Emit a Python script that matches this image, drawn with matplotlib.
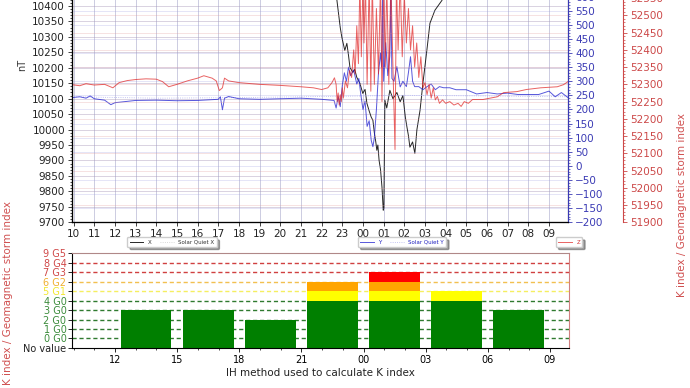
import numpy as np
import matplotlib
matplotlib.use('Agg')
import matplotlib.pyplot as plt
from matplotlib.ticker import MultipleLocator, FixedLocator

# hours since 00:00 of day 1 (24 = 00 next day)
x_hours = [9.92, 11, 12, 13, 14, 15, 16, 17, 18, 19, 20, 21, 22, 22.5, 22.74, 22.9, 22.98, 23.12,
           23.22, 23.3, 23.37, 23.51, 23.6, 23.7, 23.85, 23.99, 24.1, 24.19, 24.3, 24.4, 24.48, 24.55,
           24.62, 24.67, 24.72, 24.78, 24.85, 24.92, 24.98, 25.01, 25.06, 25.15, 25.3, 25.45, 25.64,
           25.8, 25.93, 26.05, 26.13, 26.2, 26.27, 26.4, 26.51, 26.61, 26.76, 26.9, 27.09, 27.24, 27.48,
           27.82, 28.2, 29, 30, 31, 32, 33, 33.92]
x_nT = [10560, 10565, 10560, 10570, 10575, 10570, 10575, 10580, 10585, 10590, 10590, 10585, 10580,
        10540, 10418, 10330, 10298, 10256, 10279, 10240, 10201, 10185, 10195, 10169, 10150, 10117,
        10130, 10085, 10060, 10040, 10030, 9990, 9960, 9933, 9950, 9900, 9870, 9813, 9739, 9745,
        10095, 10070, 10127, 10100, 10120, 10090, 10110, 10040, 10007, 9980, 9943, 9960, 9923, 10000,
        10062, 10150, 10256, 10344, 10386, 10418, 10480, 10520, 10540, 10550, 10555, 10560, 10560]

y_hours = [9.92, 10.3, 10.6, 10.8, 11.0, 11.5, 11.8, 12.0, 12.5, 13.0, 14, 15, 16, 17.0, 17.1, 17.2,
           17.3, 17.5, 18, 19, 20, 21, 22, 22.6, 22.7, 22.8, 22.9, 23.0, 23.1, 23.2, 23.3, 23.4, 23.55,
           23.7, 23.8, 23.9, 24.0, 24.1, 24.2, 24.3, 24.4, 24.48, 24.55, 24.65, 24.75, 24.85, 24.9,
           24.95, 25.0, 25.1, 25.2, 25.3, 25.35, 25.4, 25.5, 25.64, 25.8, 25.93, 26.1, 26.2, 26.3, 26.4,
           26.5, 26.7, 26.9, 27.1, 27.3, 27.5, 27.7, 27.9, 28.2, 28.5, 29, 29.5, 30, 30.5, 31, 31.5,
           32, 32.5, 33.0, 33.3, 33.6, 33.92]
y_vals = [242, 245, 240, 248, 238, 233, 217, 224, 228, 232, 233, 231, 232, 236, 245, 199,
          240, 246, 238, 236, 238, 240, 236, 232, 205, 245, 210, 285, 330, 300, 350, 320, 340,
          290, 310, 250, 200, 230, 140, 160, 90, 68, 100, 200, 330, 400, 350,
          620, 300, 437, 320, 390, 620, 310, 300, 352, 280, 300, 281, 331, 387, 300,
          281, 281, 270, 281, 290, 270, 281, 277, 277, 270, 270, 255, 260, 255, 258, 253,
          253, 253, 265, 245, 260, 242]

z_hours = [9.92, 10.3, 10.6, 11, 11.5, 11.9, 12.2, 12.6, 13, 13.5, 14, 14.3, 14.6, 15, 15.5, 16,
           16.3, 16.7, 16.9, 17.05, 17.2, 17.3, 17.5, 18, 19, 20, 21, 21.6, 22.0, 22.3, 22.5, 22.62,
           22.7, 22.75, 22.8, 22.85, 22.9, 22.95, 23.0, 23.05, 23.15, 23.25, 23.35, 23.45, 23.55,
           23.62, 23.7, 23.78, 23.85, 23.92, 24.0, 24.05, 24.12, 24.2, 24.3, 24.38, 24.45, 24.55,
           24.65, 24.75, 24.85, 24.92, 25.0, 25.08, 25.15, 25.25, 25.35, 25.45, 25.55, 25.62, 25.7,
           25.8, 25.9, 26.0, 26.1, 26.2, 26.3, 26.4, 26.5, 26.6, 26.7, 26.8, 26.9, 27.0, 27.1, 27.2,
           27.3, 27.4, 27.5, 27.6, 27.7, 27.85, 28.0, 28.2, 28.4, 28.6, 28.75, 28.9, 29.1, 29.3,
           29.8, 30.5, 30.8, 31.45, 31.9, 32.6, 33.4, 33.7, 33.92]
z_vals = [52299, 52296, 52302, 52298, 52300, 52290, 52305, 52311, 52314, 52316, 52315, 52308, 52293,
          52300, 52310, 52318, 52325, 52318, 52310, 52282, 52290, 52318, 52310, 52305, 52300, 52297,
          52293, 52290, 52285, 52290, 52305, 52319, 52300, 52250, 52275, 52240, 52270, 52250, 52290,
          52260, 52310, 52290, 52340, 52320, 52400, 52330, 52470, 52360, 52600, 52380, 52600, 52420,
          52600, 52300, 52600, 52280, 52600, 52300, 52520, 52330, 52600, 52250, 52600, 52350, 52600,
          52300, 52600, 52350, 52111, 52600, 52400, 52600, 52380, 52560, 52420, 52520, 52400, 52470,
          52350, 52420, 52320, 52380, 52290, 52305, 52270, 52300, 52260, 52290, 52255, 52265, 52245,
          52255, 52245, 52250, 52240, 52245, 52236, 52250, 52245, 52256, 52256, 52264, 52276, 52279,
          52285, 52290, 52293, 52299, 52308]

# solar quiet curves (X lies above the visible range)
sq_hours = [9.92, 14, 18, 22, 26, 30, 33.92]
sq_x = [10575, 10570, 10580, 10585, 10580, 10575, 10575]
sq_y = [245, 240, 242, 246, 250, 248, 245]

# K index per 3 hour period (start hour), first period has no value
k_start = [12, 15, 18, 21, 24, 27, 30]
k_index = [3, 3, 2, 6, 7, 5, 3]
k_labels = ['No value', '0 G0', '1 G0', '2 G0', '3 G0', '4 G0', '5 G1', '6 G2', '7 G3', '8 G4', '9 G5']
k_label_colors = ['#222222'] + ['#3c8c3c'] * 5 + ['#f2e830', '#f0b030'] + ['#d04848'] * 3

hour_ticks = list(range(10, 34))

fig = plt.figure(figsize=(6.9, 3.88), dpi=100)

# ---- top panel
ax = fig.add_axes([0.1043, 0.4271, 0.7189, 0.599])
ax_y = ax.twinx()
ax_z = ax.twinx()
ax_z.spines['right'].set_position(('axes', 1.111))

ax.plot(sq_hours, sq_x, color='#cccccc', lw=0.6, ls=':', label='Solar Quiet X')
ax.plot(x_hours, x_nT, color='k', lw=0.7, alpha=0.85, label='X')
ax_y.plot(sq_hours, sq_y, color='#b0b0ee', lw=0.6, ls=':', label='Solar Quiet Y')
ax_y.plot(y_hours, y_vals, color='#2020d0', lw=0.7, alpha=0.75, label='Y')
ax_z.plot(z_hours, z_vals, color='#e02020', lw=0.7, alpha=0.7, label='Z')

ax.set_xlim(9.92, 33.92)
ax.set_ylim(9700, 10452)
ax_y.set_ylim(-200, 624)
ax_z.set_ylim(51900, 52574)

ax.set_xticks(hour_ticks)
ax.set_xticklabels(['%02d' % (h % 24) for h in hour_ticks])
ax.yaxis.set_major_locator(MultipleLocator(50))
ax.yaxis.set_minor_locator(MultipleLocator(10))
ax_y.yaxis.set_major_locator(MultipleLocator(50))
ax_y.yaxis.set_minor_locator(MultipleLocator(10))
ax_z.yaxis.set_major_locator(MultipleLocator(50))
ax_z.yaxis.set_minor_locator(MultipleLocator(10))

ax.tick_params(axis='both', labelsize=7.5, length=3, width=0.6, pad=2, colors='#222222')
ax.tick_params(axis='y', which='minor', length=1.5, width=0.5)
ax_y.tick_params(axis='y', labelsize=7.5, length=3, width=0.6, pad=2, colors='#3a3ab4')
ax_y.tick_params(axis='y', which='minor', length=1.5, width=0.5, colors='#3a3ab4')
ax_z.tick_params(axis='y', labelsize=7.5, length=3, width=0.6, pad=2, colors='#cc4848')
ax_z.tick_params(axis='y', which='minor', length=1.5, width=0.5, colors='#cc4848')
ax_y.spines['right'].set_color('#3a3ab4')
ax_z.spines['right'].set_color('#cc4848')
for a in (ax, ax_y, ax_z):
    a.spines['top'].set_visible(False)

ax.grid(axis='x', color='#c4c4dc', lw=0.6)
ax.grid(axis='y', color='#a898b8', lw=0.5, alpha=0.6)
ax_y.grid(axis='y', color='#9898e0', lw=0.5, alpha=0.35)
ax_z.grid(axis='y', color='#e09898', lw=0.5, alpha=0.4)

fig.text(22 / 690, 1 - 65 / 388, 'nT', rotation=90, fontsize=7, color='#333333', ha='center', va='center')
fig.text(682 / 690, 1 - 205 / 388, 'K index / Geomagnetic storm index', rotation=90, fontsize=7.5,
         color='#d05050', ha='center', va='center')

# legends below the top panel
leg_kw = dict(fontsize=4, shadow=True, fancybox=True, handlelength=2.5, borderpad=0.4,
              columnspacing=1.5, handletextpad=0.8, ncol=2, framealpha=1)
h1, l1 = ax.get_legend_handles_labels()
lg = fig.legend(h1[::-1], l1[::-1], loc='center', bbox_to_anchor=(172 / 690, 1 - 242 / 388), **leg_kw)
for t in lg.get_texts():
    t.set_color('#333333')
h2, l2 = ax_y.get_legend_handles_labels()
lg = fig.legend(h2[::-1], l2[::-1], loc='center', bbox_to_anchor=(402 / 690, 1 - 242 / 388), **leg_kw)
for t in lg.get_texts():
    t.set_color('#2020c0')
h3, l3 = ax_z.get_legend_handles_labels()
leg_kw['ncol'] = 1
lg = fig.legend(h3, l3, loc='center', bbox_to_anchor=(569 / 690, 1 - 242 / 388), **leg_kw)
for t in lg.get_texts():
    t.set_color('#d03030')

# ---- bottom panel (K index)
bx = fig.add_axes([0.1043, 0.1031, 0.7203, 0.2448])
centers = [s + 1.5 for s in k_start]
kk = np.array(k_index) + 1
green = np.minimum(kk, 5)
yellow = np.clip(kk - 5, 0, 1)
orange = np.clip(kk - 6, 0, 1)
red = np.clip(kk - 7, 0, 1)

levels_c = ['#2f7a2f'] * 5 + ['#f5ef60', '#f2c050', '#d04040', '#d04040']
for lev, c in zip(range(1, 10), levels_c):
    bx.axhline(lev, color=c, ls='--', lw=1.0, dashes=(3, 2), zorder=1)

bw = 2.45
bx.bar(centers, green, width=bw, color='#007f00', zorder=2)
bx.bar(centers, yellow, bottom=green, width=bw, color='#ffff00', zorder=2)
bx.bar(centers, orange, bottom=green + yellow, width=bw, color='#ffa500', zorder=2)
bx.bar(centers, red, bottom=green + yellow + orange, width=bw, color='#ff0000', zorder=2)

bx.set_xlim(9.92, 33.92)
bx.set_ylim(0, 10)
bx.set_xticks([12, 15, 18, 21, 24, 27, 30, 33])
bx.set_xticklabels(['12', '15', '18', '21', '00', '03', '06', '09'])
bx.xaxis.set_minor_locator(FixedLocator(hour_ticks))
bx.set_yticks(range(11))
bx.set_yticklabels(k_labels)
for t, c in zip(bx.get_yticklabels(), k_label_colors):
    t.set_color(c)
bx.tick_params(axis='both', labelsize=7, length=3, width=0.6, pad=2)
bx.tick_params(axis='x', which='minor', length=1.5, width=0.5)
bx.tick_params(axis='y', pad=1)
bx.spines['top'].set_color('#b08888')
bx.spines['right'].set_color('#d08080')
bx.set_xlabel('IH method used to calculate K index', fontsize=7.5, color='#222222', labelpad=2)
fig.text(8 / 690, 1 - 293 / 388, 'K index / Geomagnetic storm index', rotation=90, fontsize=7.5,
         color='#d05050', ha='center', va='center')

fig.savefig('out.png', dpi=100)
